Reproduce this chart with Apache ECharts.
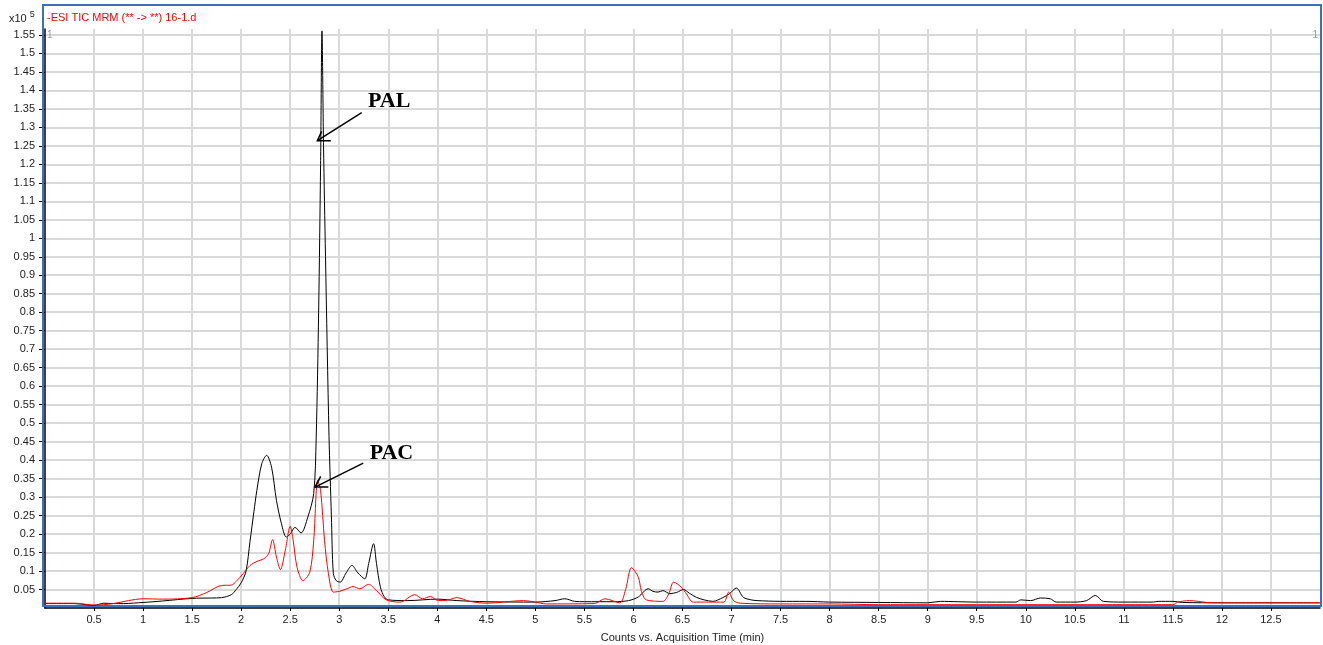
<!DOCTYPE html>
<html lang="en">
<head>
    <meta charset="UTF-8">
    <title>TIC MRM 16-1.d</title>
    <style>
        html, body { margin: 0; padding: 0; background: #fff; }
        #chart { width: 1323px; height: 645px; }
    </style>
</head>
<body>
    <div id="chart"></div>
    <script src="https://cdn.jsdelivr.net/npm/echarts@6/dist/echarts.min.js"></script>
    <script>
        // counts are in units of x10^5, time in minutes
        var blackTime = [0, 0.3, 0.45, 0.5, 0.55, 0.6, 0.7, 0.8, 1.0, 1.2, 1.5, 1.7, 1.8, 1.9, 1.95, 2.0, 2.05, 2.09, 2.13, 2.16,
            2.21, 2.26, 2.31, 2.36, 2.41, 2.46, 2.5, 2.55, 2.61, 2.68, 2.74, 2.765, 2.79, 2.81, 2.824, 2.84, 2.86, 2.896, 2.92, 2.94,
            2.97, 3.01, 3.07, 3.13, 3.19, 3.26, 3.3, 3.35, 3.38, 3.42, 3.46, 3.5, 3.7, 4.0, 4.2, 4.5, 5.0, 5.2, 5.3, 5.4,
            5.5, 5.8, 5.95, 6.05, 6.15, 6.2, 6.25, 6.3, 6.37, 6.44, 6.51, 6.57, 6.64, 6.72, 6.81, 6.91, 6.98, 7.05, 7.12, 7.2,
            7.26, 7.5, 7.75, 8.0, 8.5, 9.0, 9.13, 9.3, 9.5, 9.9, 9.95, 10.05, 10.15, 10.25, 10.31, 10.5, 10.62, 10.71, 10.79, 11.0,
            11.3, 11.35, 11.5, 11.6, 12.0, 13.0];
        var blackCounts = [0.012, 0.012, 0.008, 0.007, 0.010, 0.013, 0.012, 0.012, 0.015, 0.019, 0.026, 0.027, 0.028, 0.036, 0.05, 0.068, 0.1, 0.18, 0.26, 0.318,
            0.39, 0.413, 0.381, 0.291, 0.229, 0.192, 0.2, 0.218, 0.203, 0.246, 0.31, 0.46, 0.8, 1.2, 1.561, 1.25, 0.95, 0.463, 0.25, 0.093,
            0.074, 0.07, 0.095, 0.115, 0.095, 0.079, 0.12, 0.174, 0.12, 0.056, 0.03, 0.022, 0.02, 0.024, 0.02, 0.017, 0.016, 0.02, 0.025, 0.018,
            0.017, 0.017, 0.02, 0.03, 0.052, 0.045, 0.043, 0.047, 0.039, 0.042, 0.05, 0.04, 0.029, 0.022, 0.018, 0.028, 0.039, 0.054, 0.029, 0.022,
            0.02, 0.018, 0.018, 0.016, 0.015, 0.014, 0.018, 0.017, 0.016, 0.016, 0.022, 0.02, 0.027, 0.025, 0.016, 0.016, 0.02, 0.034, 0.018, 0.016,
            0.016, 0.018, 0.018, 0.015, 0.014, 0.014];

        var redTime = [0, 0.3, 0.5, 0.6, 0.7, 0.85, 1.0, 1.2, 1.5, 1.65, 1.8, 1.9, 1.95, 2.02, 2.09, 2.16, 2.23, 2.28, 2.32, 2.36,
            2.4, 2.45, 2.5, 2.53, 2.57, 2.63, 2.7, 2.74, 2.78, 2.81, 2.85, 2.89, 2.94, 3.0, 3.08, 3.14, 3.21, 3.3, 3.38, 3.48,
            3.62, 3.77, 3.85, 3.93, 4.01, 4.1, 4.2, 4.33, 4.5, 4.88, 5.0, 5.11, 5.6, 5.71, 5.86, 5.92, 5.98, 6.05, 6.08, 6.13,
            6.3, 6.36, 6.41, 6.49, 6.54, 6.61, 6.92, 6.97, 7.02, 7.09, 7.5, 8.0, 8.5, 9.0, 10.0, 11.0, 11.5, 11.55, 11.67, 11.85,
            12.0, 13.0];
        var redCounts = [0.013, 0.013, 0.008, 0.009, 0.012, 0.02, 0.025, 0.024, 0.028, 0.042, 0.061, 0.062, 0.072, 0.093, 0.115, 0.126, 0.133, 0.147, 0.185, 0.138,
            0.104, 0.156, 0.221, 0.183, 0.11, 0.074, 0.097, 0.183, 0.345, 0.318, 0.183, 0.093, 0.043, 0.045, 0.052, 0.058, 0.052, 0.064, 0.047, 0.022,
            0.016, 0.036, 0.025, 0.031, 0.02, 0.021, 0.028, 0.018, 0.013, 0.02, 0.016, 0.011, 0.012, 0.025, 0.014, 0.05, 0.109, 0.083, 0.047, 0.022,
            0.018, 0.038, 0.07, 0.056, 0.038, 0.016, 0.016, 0.043, 0.02, 0.013, 0.011, 0.011, 0.009, 0.009, 0.009, 0.009, 0.009, 0.016, 0.02, 0.015,
            0.014, 0.014];

        // peak labels: [text, label pos, arrow tail, arrow tip, barb 1, barb 2]
        var peakNames = ['PAL', 'PAC'];
        var labelPos = [[3.293, 1.370], [3.31, 0.418]];
        var arrowTail = [[3.229, 1.340], [3.245, 0.392]];
        var arrowTip = [[2.777, 1.264], [2.753, 0.327]];
        var barbFlat = [[2.914, 1.264], [2.889, 0.327]];
        var barbUp = [[2.821, 1.289], [2.811, 0.356]];

        function pairs(xs, ys) {
            var res = [];
            for (var i = 0; i < xs.length; i++) {
                res.push([xs[i], ys[i]]);
            }
            return res;
        }

        var chart = echarts.init(document.getElementById('chart'));
        var font = 'Liberation Sans, Arial, sans-serif';

        var option = {
            animation: false,
            grid: { left: 45, right: 3, top: 29, bottom: 37, outerBoundsMode: 'none', containLabel: false },
            xAxis: {
                type: 'value',
                min: 0,
                max: 13,
                interval: 0.5,
                name: 'Counts vs. Acquisition Time (min)',
                nameLocation: 'middle',
                nameGap: 23,
                nameTextStyle: { color: '#222', fontSize: 11, fontFamily: font },
                offset: 1,
                axisLine: { lineStyle: { color: '#000', width: 1.5 } },
                axisTick: { length: 3, lineStyle: { color: '#000' } },
                axisLabel: { showMinLabel: false, showMaxLabel: false, color: '#222', fontSize: 11, fontFamily: font, margin: 5 },
                splitLine: { showMinLine: false, showMaxLine: false, lineStyle: { color: '#d9d9d9', width: 2 } }
            },
            yAxis: {
                type: 'value',
                min: 0,
                max: 1.566,
                interval: 0.05,
                offset: 3,
                axisLine: { show: true, lineStyle: { color: '#000', width: 1.5 } },
                axisTick: { show: true, length: 6, lineStyle: { color: '#000' } },
                axisLabel: { showMinLabel: false, showMaxLabel: false, color: '#222', fontSize: 11, fontFamily: font, margin: 7 },
                splitLine: { showMinLine: false, showMaxLine: false, lineStyle: { color: '#d9d9d9', width: 2 } }
            },
            series: [
                {
                    name: 'black',
                    type: 'line',
                    data: pairs(blackTime, blackCounts),
                    showSymbol: false,
                    smooth: 0.3,
                    lineStyle: { color: '#000', width: 1 }
                },
                {
                    name: 'red',
                    type: 'line',
                    data: pairs(redTime, redCounts),
                    showSymbol: false,
                    smooth: 0.3,
                    lineStyle: { color: '#ff0000', width: 1 }
                }
            ]
        };
        chart.setOption(option);

        var px = function (p) { return chart.convertToPixel({ gridIndex: 0 }, p); };
        var graphics = [
            {
                type: 'rect',
                shape: { x: 43, y: 5, width: 1278, height: 601 },
                style: { fill: 'none', stroke: '#3b6fc4', lineWidth: 2 },
                z: 1
            },
            {
                type: 'text',
                left: 9, top: 10,
                style: {
                    text: '{a|x10 }{b|5}',
                    rich: {
                        a: { fontSize: 11, fontFamily: font, fill: '#222', verticalAlign: 'bottom', lineHeight: 14 },
                        b: { fontSize: 9, fontFamily: font, fill: '#222', verticalAlign: 'top', lineHeight: 10 }
                    }
                }
            },
            {
                type: 'text',
                left: 47, top: 12,
                style: { text: '-ESI TIC MRM (** -> **) 16-1.d', fill: '#ff0000', fontSize: 11, fontFamily: font }
            },
            {
                type: 'text',
                left: 47, top: 30,
                style: { text: '1', fill: '#999', fontSize: 10, fontFamily: font }
            },
            {
                type: 'text',
                right: 5, top: 30,
                style: { text: '1', fill: '#999', fontSize: 10, fontFamily: font }
            }
        ];
        for (var i = 0; i < peakNames.length; i++) {
            var lp = px(labelPos[i]);
            graphics.push({
                type: 'text',
                x: lp[0], y: lp[1],
                style: {
                    text: peakNames[i], fill: '#000',
                    font: 'bold 22px "Liberation Serif", "Times New Roman", serif',
                    verticalAlign: 'middle', align: 'left'
                },
                z: 10
            });
            var tail = px(arrowTail[i]), tip = px(arrowTip[i]);
            var b1 = px(barbFlat[i]), b2 = px(barbUp[i]);
            graphics.push({
                type: 'polyline',
                shape: { points: [tail, tip] },
                style: { stroke: '#000', lineWidth: 1.5, fill: null },
                z: 10
            });
            graphics.push({
                type: 'polyline',
                shape: { points: [b2, tip, b1] },
                style: { stroke: '#000', lineWidth: 1.5, fill: null },
                z: 10
            });
        }
        chart.setOption({ graphic: graphics });
    </script>
</body>
</html>
